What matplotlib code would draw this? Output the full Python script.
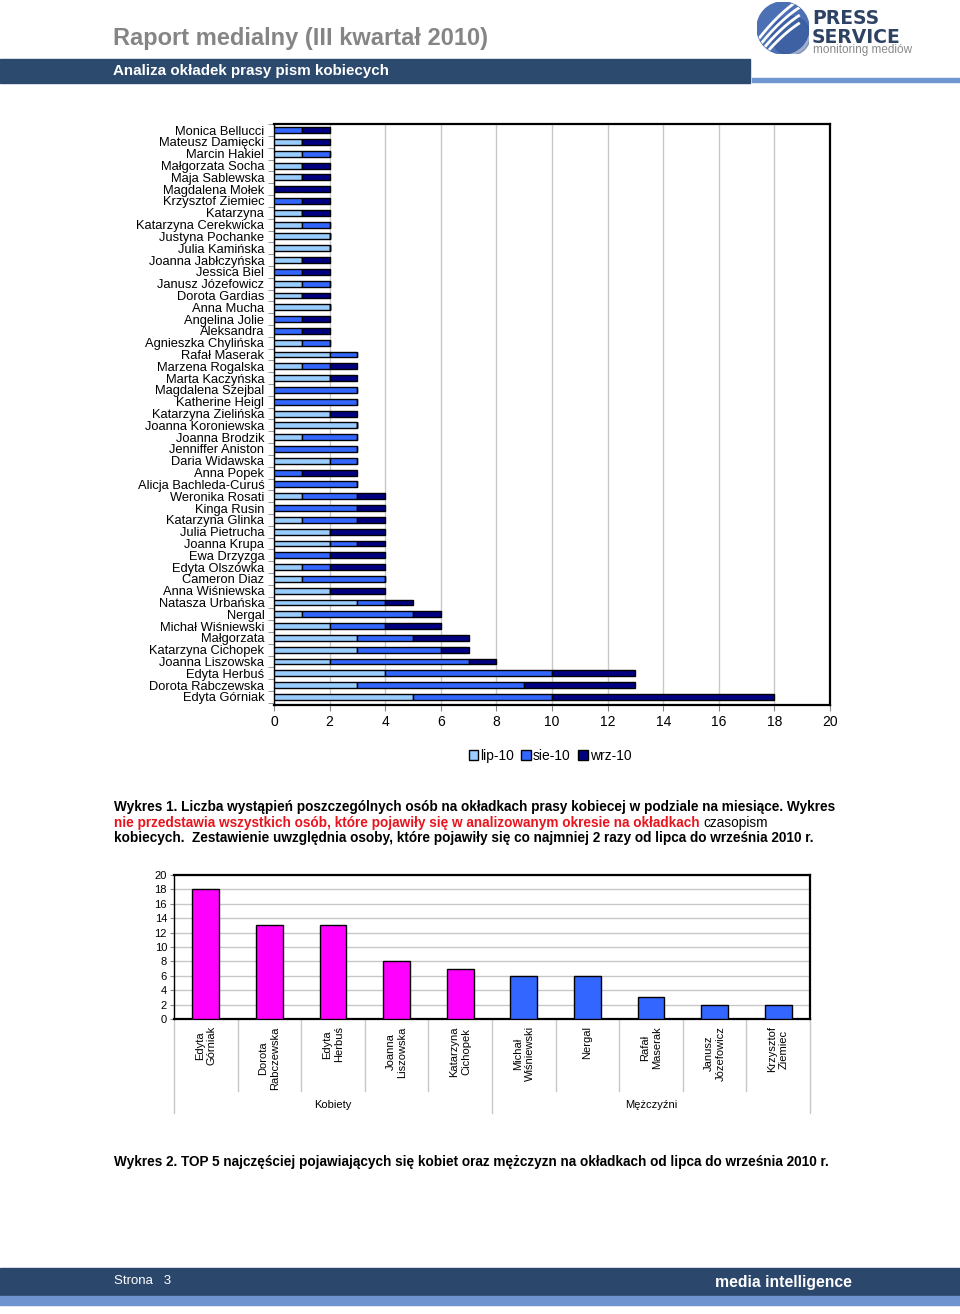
import matplotlib.pyplot as plt
import numpy as np
from matplotlib.patches import Rectangle, Circle

# --- data: covers per person, top to bottom as in the chart ---
names = ['Monica Bellucci', 'Mateusz Damięcki', 'Marcin Hakiel', 'Małgorzata Socha',
         'Maja Sablewska', 'Magdalena Mołek', 'Krzysztof Ziemiec', 'Katarzyna',
         'Katarzyna Cerekwicka', 'Justyna Pochanke', 'Julia Kamińska', 'Joanna Jabłczyńska',
         'Jessica Biel', 'Janusz Józefowicz', 'Dorota Gardias', 'Anna Mucha',
         'Angelina Jolie', 'Aleksandra', 'Agnieszka Chylińska', 'Rafał Maserak',
         'Marzena Rogalska', 'Marta Kaczyńska', 'Magdalena Szejbal', 'Katherine Heigl',
         'Katarzyna Zielińska', 'Joanna Koroniewska', 'Joanna Brodzik', 'Jenniffer Aniston',
         'Daria Widawska', 'Anna Popek', 'Alicja Bachleda-Curuś', 'Weronika Rosati',
         'Kinga Rusin', 'Katarzyna Glinka', 'Julia Pietrucha', 'Joanna Krupa',
         'Ewa Drzyzga', 'Edyta Olszówka', 'Cameron Diaz', 'Anna Wiśniewska',
         'Natasza Urbańska', 'Nergal', 'Michał Wiśniewski', 'Małgorzata',
         'Katarzyna Cichopek', 'Joanna Liszowska', 'Edyta Herbuś', 'Dorota Rabczewska',
         'Edyta Górniak']
lip = [0, 1, 1, 1, 1, 0, 0, 1, 1, 2, 2, 1, 0, 1, 1, 2, 0, 0, 1, 2,
       1, 2, 0, 0, 2, 3, 1, 0, 2, 0, 0, 1, 0, 1, 2, 2, 0, 1, 1, 2,
       3, 1, 2, 3, 3, 2, 4, 3, 5]
sie = [1, 0, 1, 0, 0, 0, 1, 0, 1, 0, 0, 0, 1, 1, 0, 0, 1, 1, 1, 1,
       1, 0, 3, 3, 0, 0, 2, 3, 1, 1, 3, 2, 3, 2, 0, 1, 2, 1, 3, 0,
       1, 4, 2, 2, 3, 5, 6, 6, 5]
wrz = [1, 1, 0, 1, 1, 2, 1, 1, 0, 0, 0, 1, 1, 0, 1, 0, 1, 1, 0, 0,
       1, 1, 0, 0, 1, 0, 0, 0, 0, 2, 0, 1, 1, 1, 2, 1, 2, 2, 0, 2,
       1, 1, 2, 2, 1, 1, 3, 4, 8]
months = ['lip-10', 'sie-10', 'wrz-10']

top_names = ['Edyta\nGórniak', 'Dorota\nRabczewska', 'Edyta\nHerbuś', 'Joanna\nLiszowska',
             'Katarzyna\nCichopek', 'Michał\nWiśniewski', 'Nergal', 'Rafał\nMaserak',
             'Janusz\nJózefowicz', 'Krzysztof\nZiemiec']
top_values = [18, 13, 13, 8, 7, 6, 6, 3, 2, 2]
top_groups = ['Kobiety', 'Mężczyźni']

W, H = 960, 1314
fig = plt.figure(figsize=(W / 100, H / 100), dpi=100)
plt.rcParams['font.family'] = ['Liberation Sans', 'DejaVu Sans']


def fx(x):
    return x / W


def fy(y):
    return 1 - y / H


# --- page header ---
fig.patches.append(Rectangle((0, fy(83)), fx(750), 24 / H, transform=fig.transFigure,
                             color='#2b4a6e', zorder=0))
fig.patches.append(Rectangle((fx(752), fy(82)), 1, 4 / H, transform=fig.transFigure,
                             color='#6f96d1', zorder=0))
fig.text(fx(113), fy(38), 'Raport medialny (III kwartał 2010)', fontsize=17,
         weight='bold', color='#858585', va='center')
fig.text(fx(113), fy(71), 'Analiza okładek prasy pism kobiecych', fontsize=10.9,
         weight='bold', color='white', va='center')

# logo
lax = fig.add_axes([fx(757), fy(54), 52 / W, 52 / H])
lax.set_xlim(-1, 1)
lax.set_ylim(-1, 1)
lax.axis('off')
disc = Circle((0, 0), 1, color='#4c70b4')
lax.add_patch(disc)
lax.add_patch(Circle((0.3, -0.3), 0.75, color='#2f4f8f', alpha=0.45))
for off in [-0.5, -0.2, 0.1, 0.4]:
    t = np.linspace(-1, 0.6, 50)
    ln, = lax.plot(t, 0.9 * t + off + 0.2 * (1 - t ** 2), color='white', lw=2)
    ln.set_clip_path(disc)
fig.text(fx(812), fy(19), 'PRESS', fontsize=13.5, weight='bold', color='#2e4263',
         va='center', family='DejaVu Sans')
fig.text(fx(812), fy(37.5), 'SERVICE', fontsize=13.5, weight='bold', color='#2e4263',
         va='center', family='DejaVu Sans')
fig.text(fx(813), fy(50.5), 'monitoring mediów', fontsize=8.5, color='#8a8a8a',
         va='center')

# --- chart 1: stacked horizontal bars ---
ax = fig.add_axes([fx(274), fy(705), (830 - 274) / W, (705 - 124) / H])
n = len(names)
ypos = np.arange(n)[::-1]
colors = ['#99ccff', '#3366ff', '#000080']
left = np.zeros(n)
for vals, col, lab in zip([lip, sie, wrz], colors, months):
    vals = np.array(vals)
    ax.barh(ypos, vals, left=left, height=0.5, color=col, edgecolor='black',
            linewidth=1, label=lab, zorder=3)
    left = left + vals
ax.set_xlim(0, 20)
ax.set_ylim(-0.68, n - 1 + 0.52)
ax.set_xticks(range(0, 21, 2))
ax.set_yticks(ypos)
ax.set_yticklabels(names, fontsize=9.3)
ax.set_yticks(np.arange(-0.5, n, 1), minor=True)
ax.tick_params(axis='y', which='major', length=0, pad=7)
ax.tick_params(axis='y', which='minor', length=4, color='#888888')
ax.tick_params(axis='x', labelsize=10, length=4, color='#888888', pad=3)
ax.grid(axis='x', color='#c8c8c8', lw=1, zorder=0)
for s in ax.spines.values():
    s.set_linewidth(1.6)
ax.spines['left'].set_linewidth(1)
ax.legend(loc='center', bbox_to_anchor=(fx(550), fy(756)), bbox_transform=fig.transFigure,
          ncol=3, frameon=False, fontsize=10, handlelength=0.7, handleheight=0.7,
          handletextpad=0.15, columnspacing=0.5)

# caption 1
cap_fs = 9.85
fig.text(fx(114), fy(807), 'Wykres 1. Liczba wystąpień poszczególnych osób na okładkach prasy '
         'kobiecej w podziale na miesiące. Wykres', fontsize=cap_fs, weight='bold', va='center')
red = fig.text(fx(114), fy(823), 'nie przedstawia wszystkich osób, które pojawiły się w '
               'analizowanym okresie na okładkach', fontsize=cap_fs, weight='bold',
               color='#e8141e', va='center')
fig.canvas.draw()
bb = red.get_window_extent()
fig.text(bb.x1 / W + 4 / W, fy(823), 'czasopism', fontsize=cap_fs, va='center')
fig.text(fx(114), fy(838), 'kobiecych.  Zestawienie uwzględnia osoby, które pojawiły się co '
         'najmniej 2 razy od lipca do września 2010 r.', fontsize=cap_fs, weight='bold',
         va='center')

# --- chart 2: top 5 women and men ---
ax2 = fig.add_axes([fx(174), fy(1019), (810 - 174) / W, (1019 - 875) / H])
bar_cols = ['#ff00ff'] * 5 + ['#3366ff'] * 5
ax2.bar(range(len(top_values)), top_values, width=0.42, color=bar_cols,
        edgecolor='black', linewidth=1, zorder=3)
ax2.set_xlim(-0.5, len(top_values) - 0.5)
ax2.set_ylim(0, 20)
ax2.set_yticks(range(0, 21, 2))
ax2.tick_params(axis='y', labelsize=8, length=3, color='#888888', pad=2)
ax2.set_xticks([])
ax2.grid(axis='y', color='#c8c8c8', lw=1, zorder=0)
for s in ax2.spines.values():
    s.set_linewidth(1.6)
ax2.spines['left'].set_linewidth(1)
for i, lab in enumerate(top_names):
    ax2.text(i, -0.05, lab, transform=ax2.get_xaxis_transform(), rotation=90,
             ha='center', va='top', multialignment='center', fontsize=8)
sep = ax2.get_xaxis_transform()
for k in range(len(top_values) + 1):
    xk = k - 0.5
    low = -0.65 if k in (0, 5, 10) else -0.5
    ax2.plot([xk, xk], [0, low], transform=sep, color='#c8c8c8', lw=1, clip_on=False)
ax2.text(2, -0.6, top_groups[0], transform=sep, ha='center', va='center', fontsize=8)
ax2.text(7, -0.6, top_groups[1], transform=sep, ha='center', va='center', fontsize=8)

fig.text(fx(114), fy(1162), 'Wykres 2. TOP 5 najczęściej pojawiających się kobiet oraz mężczyzn '
         'na okładkach od lipca do września 2010 r.', fontsize=cap_fs, weight='bold', va='center')

# --- footer ---
fig.patches.append(Rectangle((0, fy(1296)), 1, 28 / H, transform=fig.transFigure,
                             color='#2b476b', zorder=0))
fig.patches.append(Rectangle((0, fy(1305)), 1, 9 / H, transform=fig.transFigure,
                             color='#6e93cf', zorder=0))
fig.text(fx(114), fy(1281), 'Strona   3', fontsize=9.5, color='white', va='center')
fig.text(fx(715), fy(1283), 'media intelligence', fontsize=11.3, weight='bold',
         color='white', va='center')

fig.savefig('out.png', dpi=100)
